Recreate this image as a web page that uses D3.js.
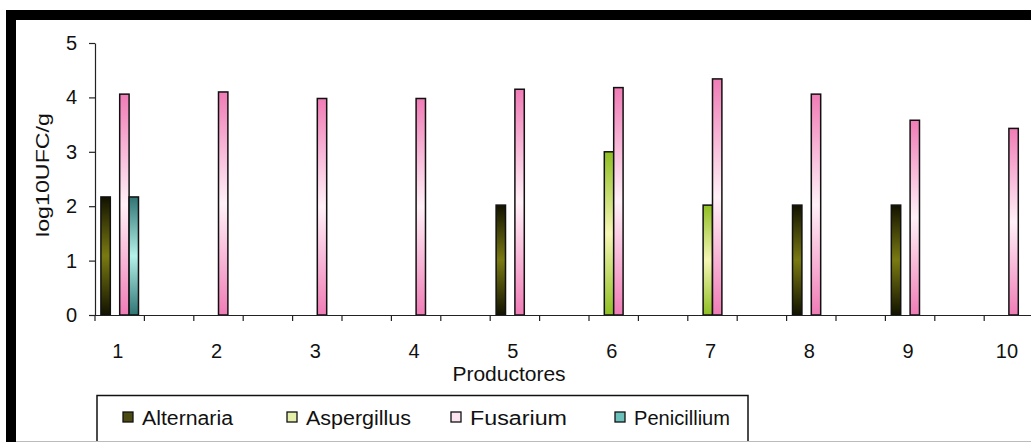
<!DOCTYPE html>
<html>
<head>
<meta charset="utf-8">
<script src="https://cdn.jsdelivr.net/npm/d3@7"></script>
<style>
  html, body { margin: 0; padding: 0; background: #fff; }
  svg { display: block; font-family: "Liberation Sans", Arial, sans-serif; }
</style>
</head>
<body>
<svg id="chart" width="1031" height="442"></svg>
<script>
const categories = ["1", "2", "3", "4", "5", "6", "7", "8", "9", "10"];
const seriesNames = ["Alternaria", "Aspergillus", "Fusarium", "Penicillium"];
const alternaria  = [2.17, 0, 0, 0, 2.02, 0, 0, 2.02, 2.02, 0];
const aspergillus = [0, 0, 0, 0, 0, 3.0, 2.02, 0, 0, 0];
const fusarium    = [4.06, 4.10, 3.98, 3.98, 4.15, 4.18, 4.34, 4.06, 3.58, 3.43];
const penicillium = [2.17, 0, 0, 0, 0, 0, 0, 0, 0, 0];
const yTicks = [0, 1, 2, 3, 4, 5];
const yTitle = "log10UFC/g";
const xTitle = "Productores";

const seriesValues = [alternaria, aspergillus, fusarium, penicillium];
const gradStops = {
  Alternaria:  ["#121200", "#7a7a12"],
  Aspergillus: ["#8fbf22", "#f6f6b4"],
  Fusarium:    ["#f07cb6", "#fff0f7"],
  Penicillium: ["#2f7474", "#b4f2ea"]
};
const swatchFill = {
  Alternaria: "#4a4a12",
  Aspergillus: "#e6efaa",
  Fusarium: "#fbe3ef",
  Penicillium: "#6cc0bc"
};

const svg = d3.select("#chart");
const defs = svg.append("defs");
seriesNames.forEach((s, i) => {
  const g = defs.append("linearGradient").attr("id", "g" + i)
    .attr("x1", 0).attr("y1", 0).attr("x2", 0).attr("y2", 1);
  g.append("stop").attr("offset", "0%").attr("stop-color", gradStops[s][0]);
  g.append("stop").attr("offset", "50%").attr("stop-color", gradStops[s][1]);
  g.append("stop").attr("offset", "100%").attr("stop-color", gradStops[s][0]);
});

// frame
svg.append("rect").attr("x", 6).attr("y", 10).attr("width", 1025).attr("height", 10).attr("fill", "#000");
svg.append("rect").attr("x", 6).attr("y", 10).attr("width", 10).attr("height", 432).attr("fill", "#000");

const left = 95, groupW = 98.8;
const x0 = d3.scaleBand().domain(categories).range([left, left + groupW * categories.length]).padding(0);
const bw = x0.bandwidth();
const x1 = d3.scaleBand().domain(seriesNames).range([0, bw / 2]).paddingInner(0).paddingOuter(0.63);
const y = d3.scaleLinear().domain([0, 5]).range([315, 43]);

// bars
const groups = svg.append("g").selectAll("g").data(categories).join("g")
  .attr("transform", d => `translate(${x0(d)},0)`);
groups.selectAll("rect")
  .data((d, ci) => seriesNames.map((s, si) => ({ s, si, v: seriesValues[si][ci] })).filter(e => e.v > 0))
  .join("rect")
  .attr("x", e => x1(e.s))
  .attr("y", e => y(e.v))
  .attr("width", x1.bandwidth())
  .attr("height", e => y(0) - y(e.v))
  .attr("fill", e => `url(#g${e.si})`)
  .attr("stroke", "#111")
  .attr("stroke-width", 1.5);

// y axis
const yAxis = svg.append("g").attr("transform", `translate(${left},0)`)
  .call(d3.axisLeft(y).tickValues(yTicks).tickFormat(d3.format("d")).tickSize(6).tickSizeOuter(0).tickPadding(12));
yAxis.select(".domain").attr("stroke", "#222").attr("stroke-width", 1.2);
yAxis.selectAll(".tick line").attr("stroke", "#222").attr("stroke-width", 1.2);
yAxis.selectAll("text").attr("font-size", 20).attr("fill", "#111")
  .attr("font-family", "'Liberation Sans', Arial, sans-serif");

// x axis
const xAxis = svg.append("g").attr("transform", `translate(0,${y(0)})`)
  .call(d3.axisBottom(x0).tickSize(0).tickSizeOuter(0).tickPadding(29));
xAxis.select(".domain").attr("stroke", "#222").attr("stroke-width", 1.2)
  .attr("d", `M${left - 6},0.5H1031`);
xAxis.selectAll("text").attr("x", -bw / 4 - 2).attr("font-size", 20).attr("fill", "#111")
  .attr("font-family", "'Liberation Sans', Arial, sans-serif");
// category tick marks (every half group)
const tickPos = [];
categories.forEach(c => { tickPos.push(x0(c)); tickPos.push(x0(c) + bw / 2); });
svg.append("g").selectAll("line").data(tickPos).join("line")
  .attr("x1", d => d).attr("x2", d => d)
  .attr("y1", y(0)).attr("y2", y(0) + 6)
  .attr("stroke", "#222").attr("stroke-width", 1.2);

// titles
svg.append("text").attr("x", 509).attr("y", 381).attr("text-anchor", "middle")
  .attr("font-size", 21).attr("fill", "#111").text(xTitle);
svg.append("text").attr("transform", "translate(49,175) rotate(-90)")
  .attr("text-anchor", "middle").attr("font-size", 18).attr("fill", "#111")
  .attr("textLength", 124).attr("lengthAdjust", "spacingAndGlyphs").text(yTitle);

// legend
svg.append("rect").attr("x", 97).attr("y", 395.5).attr("width", 651).attr("height", 50)
  .attr("fill", "#fff").attr("stroke", "#111").attr("stroke-width", 1.5);
const leg = svg.append("g").selectAll("g").data(seriesNames).join("g")
  .attr("transform", (d, i) => `translate(${123 + i * 164},0)`);
leg.append("rect").attr("x", 0).attr("y", 412).attr("width", 10).attr("height", 10)
  .attr("fill", d => swatchFill[d]).attr("stroke", "#111").attr("stroke-width", 1.3);
leg.append("text").attr("x", 19).attr("y", 425).attr("font-size", 20).attr("fill", "#111")
  .attr("textLength", (d, i) => [91, 105, 97, 96][i]).attr("lengthAdjust", "spacingAndGlyphs")
  .text(d => d);

svg.append("line").attr("x1", 16).attr("x2", 1031).attr("y1", 441.5).attr("y2", 441.5)
  .attr("stroke", "#bbb").attr("stroke-width", 1);
</script>
</body>
</html>
